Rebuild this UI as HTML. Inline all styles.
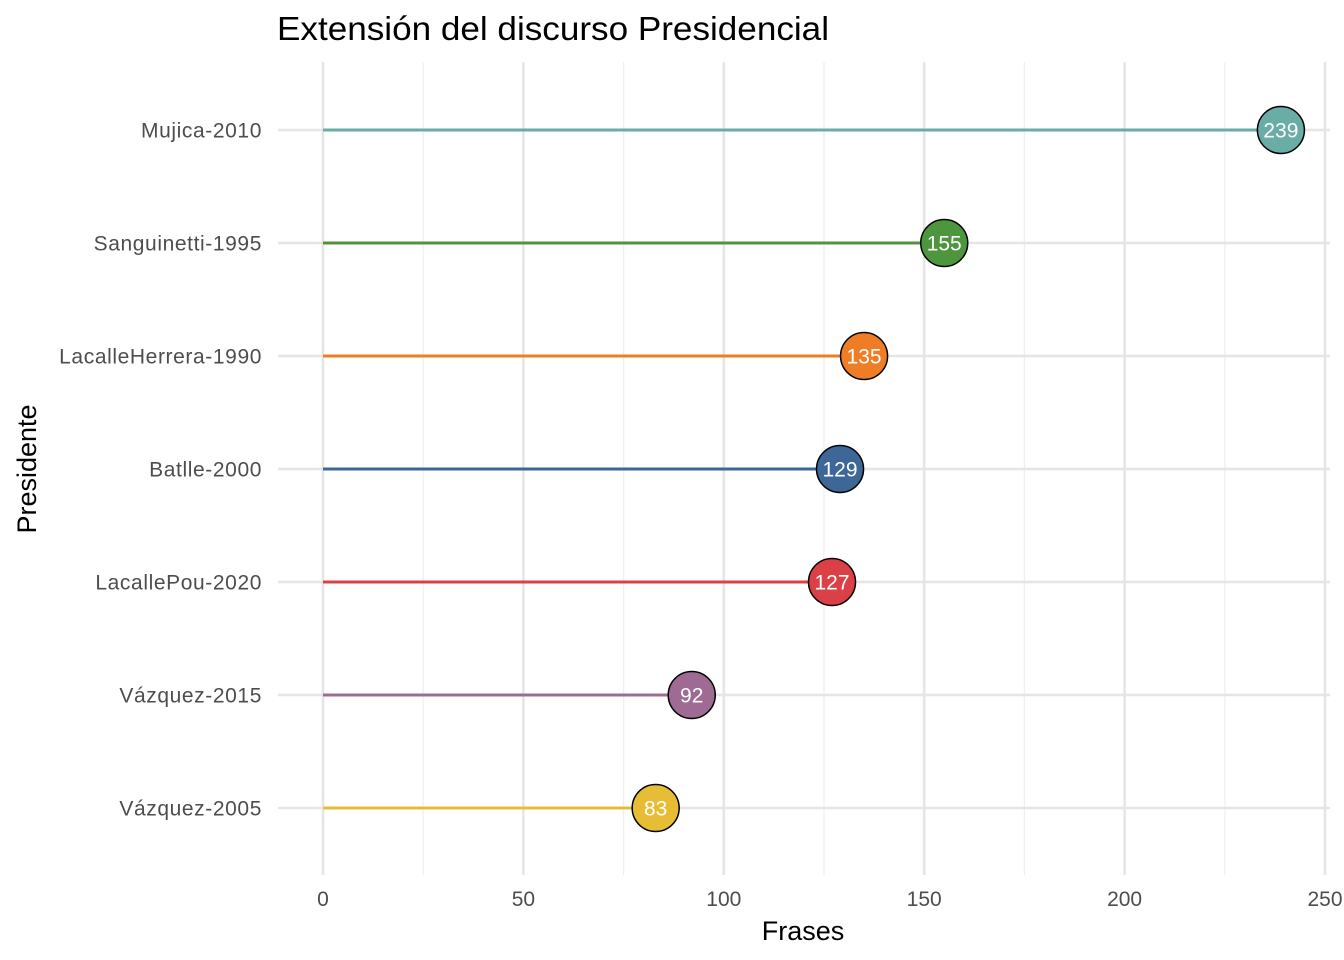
<!DOCTYPE html>
<html><head><meta charset="utf-8"><style>
body{margin:0;background:#fff;}
svg{display:block;font-family:"Liberation Sans",Arial,sans-serif;}
</style></head><body>
<svg id="chart" width="1344" height="960" viewBox="0 0 1344 960">
<text x="277" y="40" font-size="33" textLength="552" lengthAdjust="spacingAndGlyphs" fill="#000">Extensión del discurso Presidencial</text>
<g id="grid"></g><g id="marks"></g><g id="labels"></g>
<text x="803" y="940" font-size="27" text-anchor="middle" fill="#000">Frases</text>
<text transform="translate(36,469) rotate(-90)" font-size="27" text-anchor="middle" fill="#000">Presidente</text>
</svg>
<script>
const categories=["Mujica-2010","Sanguinetti-1995","LacalleHerrera-1990","Batlle-2000","LacallePou-2020","Vázquez-2015","Vázquez-2005"];
const values=[239,155,135,129,127,92,83];
const colors=["#6aada6","#4d963e","#ee7d26","#3d6796","#db4046","#9f6a93","#e8bd36"];
const xTicks=[0,50,100,150,200,250];
const xMinor=[25,75,125,175,225];
const NS="http://www.w3.org/2000/svg";
const x=v=>323+v*4.008;
const y=i=>130+i*113;
const grid=document.getElementById('grid'),marks=document.getElementById('marks'),labels=document.getElementById('labels');
function mk(tag,attrs,parent){const e=document.createElementNS(NS,tag);for(const k in attrs)e.setAttribute(k,attrs[k]);parent.appendChild(e);return e;}
xMinor.forEach(v=>{const l=mk('line',{x1:x(v),x2:x(v),y1:62,y2:875,stroke:'#efefef','stroke-width':1.3},grid);

});
xTicks.forEach(v=>{const l=mk('line',{x1:x(v),x2:x(v),y1:62,y2:875,stroke:'#e5e5e5','stroke-width':2.5},grid);


const t=mk('text',{x:x(v),y:906,'font-size':21,'text-anchor':'middle',fill:'#4d4d4d'},labels);t.textContent=v;

});
categories.forEach((c,i)=>{const l=mk('line',{x1:278,x2:1330,y1:y(i),y2:y(i),stroke:'#e5e5e5','stroke-width':2.5},grid);


const t=mk('text',{x:262,y:y(i)+7.5,'font-size':21,'text-anchor':'end',fill:'#4d4d4d','letter-spacing':'0.6'},labels);t.textContent=c;


const s=mk('line',{x1:x(0),x2:x(values[i]),y1:y(i),y2:y(i),stroke:colors[i],'stroke-width':3},marks);


const p=mk('circle',{cx:x(values[i]),cy:y(i),r:23.5,fill:colors[i],stroke:'#000','stroke-width':1.5},marks);


const vt=mk('text',{x:x(values[i]),y:y(i)+7.5,'font-size':21,'text-anchor':'middle',fill:'#fff'},marks);vt.textContent=values[i];

});
</script>
</body></html>
